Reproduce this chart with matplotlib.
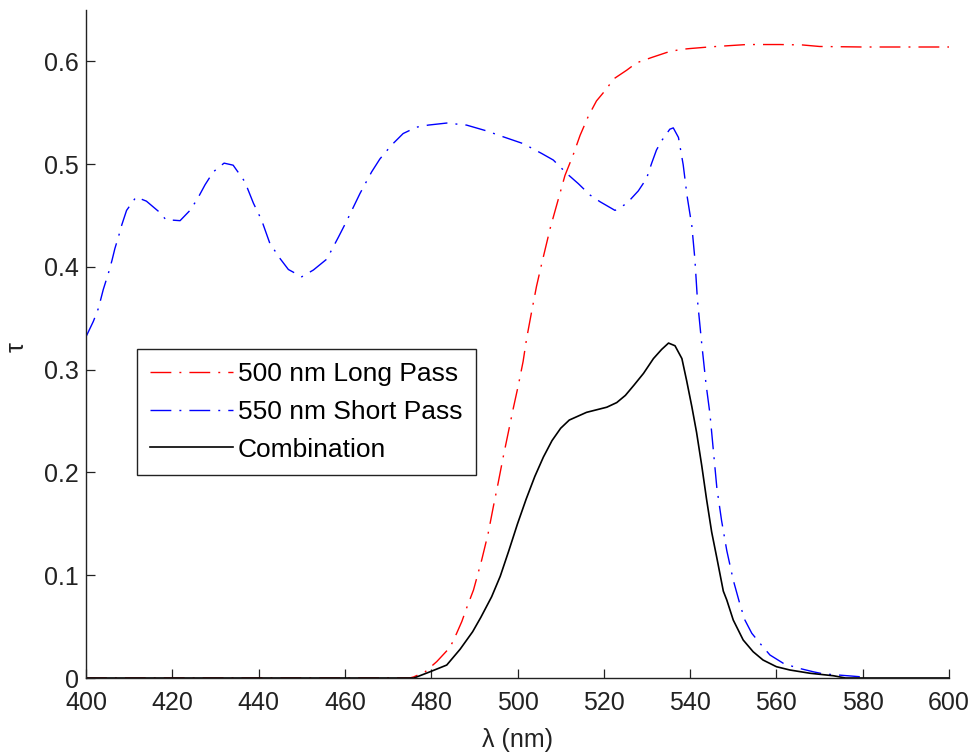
import matplotlib
matplotlib.use("Agg")
import matplotlib.pyplot as plt

plt.rcParams['font.family'] = ['Liberation Sans', 'DejaVu Sans']
plt.rcParams['lines.scale_dashes'] = False

# ---- data ----
long_nm = [400, 475, 475.9, 478.6, 481.3, 484.4, 485.9, 487.1, 488.2, 489.8, 491.7, 493.2,
           494.4, 495.5, 496.7, 497.9, 499.0, 500.2, 501.3, 502.1, 503.3, 504.4, 505.6,
           507.6, 509.8, 511.0, 512.9, 514.5, 516.4, 518.3, 520.7, 522.2, 525.3, 527.6,
           531.1, 534.6, 537.7, 540.0, 544.6, 553.1, 560.8, 566.0, 570.0, 580.0, 600.0]
long_tau = [0, 0, 0.001, 0.006, 0.016, 0.030, 0.0435, 0.055, 0.068, 0.0856, 0.1148, 0.1407,
            0.1667, 0.1894, 0.2153, 0.2396, 0.262, 0.285, 0.308, 0.330, 0.357, 0.381, 0.403,
            0.438, 0.471, 0.489, 0.509, 0.528, 0.5465, 0.5615, 0.5736, 0.5827, 0.5914, 0.5986,
            0.6038, 0.6087, 0.6116, 0.6125, 0.6141, 0.6164, 0.6164, 0.616, 0.6145, 0.614, 0.614]

short_nm = [400, 401.7, 402.9, 404.0, 405.2, 406.0, 406.7, 407.5, 408.3, 409.4, 411.6, 414.0,
            417.1, 418.5, 421.8, 424.1, 425.8, 427.6, 429.5, 432.0, 434.1, 436.8, 438.8, 440.7,
            442.6, 445.0, 446.9, 450.0, 452.7, 455.8, 458.5, 460.4, 463.5, 466.2, 468.1, 470.8,
            473.5, 476.6, 479.3, 483.6, 488.2, 492.8, 496.7, 501.3, 505.6, 508.3, 511.4, 514.1,
            516.8, 519.1, 522.6, 525.3, 528.0, 529.9, 531.1, 532.2, 533.4, 535.3, 536.1, 537.3,
            538.4, 539.3, 540.4, 541.1, 541.7, 542.7, 543.7, 544.6, 545.4, 546.2, 547.3, 548.5,
            550.0, 551.6, 552.7, 554.3, 556.2, 558.5, 561.6, 564.7, 568.6, 570.9, 577.1, 580.0]
short_tau = [0.332, 0.347, 0.360, 0.378, 0.394, 0.406, 0.418, 0.429, 0.441, 0.455, 0.468, 0.464,
             0.453, 0.446, 0.445, 0.455, 0.466, 0.480, 0.4925, 0.501, 0.499, 0.483, 0.462, 0.4455,
             0.423, 0.408, 0.3975, 0.3904, 0.397, 0.4076, 0.429, 0.4446, 0.4715, 0.4925, 0.505, 0.5185,
             0.5298, 0.536, 0.538, 0.540, 0.538, 0.5324, 0.5266, 0.520, 0.5104, 0.504, 0.491, 0.481,
             0.470, 0.4635, 0.455, 0.4617, 0.474, 0.486, 0.501, 0.5137, 0.5228, 0.534, 0.5353, 0.526,
             0.4994, 0.469, 0.440, 0.408, 0.368, 0.325, 0.2857, 0.257, 0.221, 0.185, 0.153, 0.124,
             0.0953, 0.071, 0.0564, 0.0435, 0.0337, 0.0224, 0.0143, 0.010, 0.006, 0.004, 0.002, 0.001]

comb_nm = [400, 476, 479.7, 483.6, 486.7, 489.6, 491.5, 494.0, 496.0, 498.0, 500.0, 502.0,
           504.0, 506.0, 508.0, 510.0, 512.0, 516.0, 520.7, 523.0, 525.0, 527.0, 529.2, 531.5,
           533.4, 535.0, 536.5, 538.1, 539.2, 540.4, 541.5, 542.7, 543.8, 545.0, 546.2, 547.7,
           548.5, 550.0, 552.3, 554.6, 556.9, 560.0, 563.1, 567.8, 573.2, 576.0, 600.0]
comb_tau = [0, 0, 0.006, 0.0126, 0.028, 0.045, 0.059, 0.079, 0.099, 0.124, 0.150, 0.174,
            0.196, 0.215, 0.231, 0.243, 0.251, 0.2585, 0.2635, 0.268, 0.275, 0.285, 0.2964, 0.3108,
            0.3197, 0.3259, 0.3233, 0.3108, 0.2893, 0.2641, 0.239, 0.2066, 0.1743, 0.142, 0.1168, 0.0845,
            0.0759, 0.0564, 0.037, 0.0256, 0.0175, 0.011, 0.0078, 0.0046, 0.0022, 0.0, 0.0]

labels = ['500 nm Long Pass', '550 nm Short Pass', 'Combination']
xticks = [400, 420, 440, 460, 480, 500, 520, 540, 560, 580, 600]
yticks = [0, 0.1, 0.2, 0.3, 0.4, 0.5, 0.6]
ytick_labels = ['0', '0.1', '0.2', '0.3', '0.4', '0.5', '0.6']

# ---- figure ----
W, H = 974, 753
fig = plt.figure(figsize=(W / 100, H / 100), dpi=100)
ax = fig.add_axes([86 / W, 75 / H, 863 / W, 668 / H])

dd = (15.0, 5.8, 1.4, 5.8)
ax.plot(long_nm, long_tau, color='#ff0000', lw=1.0, dashes=dd, label=labels[0])
ax.plot(short_nm, short_tau, color='#0000ff', lw=1.0, dashes=dd, label=labels[1])
ax.plot(comb_nm, comb_tau, color='black', lw=1.2, label=labels[2])

ax.set_xlim(400, 600)
ax.set_ylim(0, 0.65)
ax.set_xticks(xticks)
ax.set_xticklabels([str(v) for v in xticks])
ax.set_yticks(yticks)
ax.set_yticklabels(ytick_labels)

for s in ['top', 'right']:
    ax.spines[s].set_visible(False)
for s in ['left', 'bottom']:
    ax.spines[s].set_color('#222222')
    ax.spines[s].set_linewidth(1.0)

ax.tick_params(axis='both', direction='in', length=6.5, width=0.9, colors='#222222',
               labelsize=18)
ax.tick_params(axis='x', pad=9.5)
ax.tick_params(axis='y', pad=5)

fig.text(17 / W, 1 - 347 / H, 'τ', rotation=90, ha='center', va='center', fontsize=18,
         color='#222222')
fig.text(517 / W, 1 - 740 / H, 'λ (nm)', ha='center', va='center', fontsize=18,
         color='#222222')

leg = ax.legend(loc='upper left', bbox_to_anchor=(137 / W, 1 - 349 / H),
                bbox_transform=fig.transFigure, borderaxespad=0, fancybox=False,
                edgecolor='#222222', framealpha=1, fontsize=19, handlelength=3.15,
                handletextpad=0.18, borderpad=0.5, labelspacing=0.52)
leg.get_frame().set_linewidth(1.0)

fig.savefig('out.png', dpi=100)
